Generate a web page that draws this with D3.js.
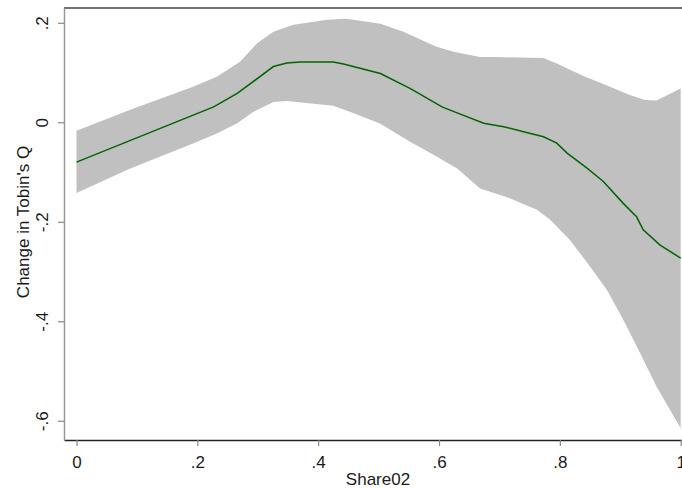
<!DOCTYPE html>
<html>
<head>
<meta charset="utf-8">
<script src="https://cdn.jsdelivr.net/npm/d3@7"></script>
<style>
  body { margin: 0; background: #fff; }
  text { font-family: "Liberation Sans", Arial, sans-serif; fill: #1a1a1a; }
</style>
</head>
<body>
<svg width="682" height="488"></svg>
<script>
// fitted line (Share02 -> change in Tobin's Q)
var fitX = [0, 0.078, 0.227, 0.266, 0.326, 0.348, 0.370, 0.425, 0.442, 0.503, 0.552, 0.605, 0.630,
  0.674, 0.707, 0.740, 0.773, 0.795, 0.812, 0.845, 0.872, 0.905, 0.927, 0.938, 0.966, 1.0]
var fitY = [-0.080, -0.042, 0.031, 0.058, 0.112, 0.119, 0.121, 0.121, 0.117, 0.098, 0.068, 0.031, 0.019,
  -0.002, -0.009, -0.019, -0.029, -0.042, -0.062, -0.092, -0.119, -0.163, -0.190, -0.216, -0.247, -0.273]

// confidence band, upper edge
var upX = [0, 0.089, 0.194, 0.233, 0.271, 0.299, 0.326, 0.359, 0.415, 0.442, 0.453, 0.503, 0.541,
  0.596, 0.624, 0.668, 0.696, 0.773, 0.795, 0.839, 0.872, 0.916, 0.941, 0.960, 1.0]
var upY = [-0.017, 0.025, 0.072, 0.092, 0.122, 0.159, 0.182, 0.196, 0.206, 0.208, 0.207, 0.198, 0.182,
  0.152, 0.142, 0.131, 0.131, 0.129, 0.118, 0.093, 0.077, 0.055, 0.045, 0.044, 0.068]

// confidence band, lower edge
var loX = [0, 0.089, 0.194, 0.233, 0.266, 0.293, 0.326, 0.348, 0.425, 0.459, 0.503, 0.552, 0.596,
  0.630, 0.668, 0.718, 0.762, 0.784, 0.817, 0.850, 0.878, 0.905, 0.933, 0.960, 1.0]
var loY = [-0.142, -0.093, -0.042, -0.022, -0.002, 0.021, 0.041, 0.043, 0.033, 0.018, -0.003, -0.039, -0.069,
  -0.093, -0.133, -0.153, -0.176, -0.196, -0.237, -0.290, -0.337, -0.397, -0.464, -0.531, -0.615]

var xTicks = [0, 0.2, 0.4, 0.6, 0.8, 1]
var yTicks = [0.2, 0, -0.2, -0.4, -0.6]
var xTitle = "Share02"
var yTitle = "Change in Tobin's Q"

var
  svg = d3.select("svg"),
  plot = { left: 64, right: 682, top: 8, bottom: 440 },
  fontSize = "17px"

var
  x = d3.scaleLinear().domain([-0.0207, 1.0022]).range([plot.left, plot.right]),
  y = d3.scaleLinear().domain([-0.6386, 0.2297]).range([plot.bottom, plot.top])

// stata style labels: ".2", "-.4", "0", "1"
var fmt = d => (d < 0 ? "-" : "") + String(Math.abs(d)).replace(/^0\./, ".")

let upper = upX.map((v, i) => [v, upY[i]])
let lower = loX.map((v, i) => [v, loY[i]]).reverse()

let line = d3.line()
  .x(d => x(d[0]))
  .y(d => y(d[1]))

svg.append("path")
  .attr("d", line([...upper, ...lower]) + "Z")
  .attr("fill", "#c0c0c0")

svg.append("path")
  .attr("d", line(fitX.map((v, i) => [v, fitY[i]])))
  .attr("fill", "none")
  .attr("stroke", "#006400")
  .attr("stroke-width", 1.5)

// top border
svg.append("line")
  .attr("x1", plot.left).attr("x2", plot.right)
  .attr("y1", plot.top).attr("y2", plot.top)
  .attr("stroke", "#444").attr("stroke-width", 1.5)

var xAxis = svg.append("g")
  .attr("transform", `translate(0,${plot.bottom})`)
  .call(d3.axisBottom(x).tickValues(xTicks).tickFormat(fmt).tickSize(6).tickPadding(10).tickSizeOuter(0))
xAxis.select(".domain").attr("stroke", "#222").attr("stroke-width", 1.5)
xAxis.selectAll(".tick line").attr("stroke", "#888").attr("stroke-width", 1.2)
xAxis.selectAll(".tick text").style("font-size", fontSize).attr("fill", "#1a1a1a")

var yAxis = svg.append("g")
  .attr("transform", `translate(${plot.left},0)`)
  .call(d3.axisLeft(y).tickValues(yTicks).tickFormat(fmt).tickSize(6).tickSizeOuter(0))
yAxis.select(".domain").attr("stroke", "#999").attr("stroke-width", 1.5)
yAxis.selectAll(".tick line").attr("stroke", "#888").attr("stroke-width", 1.2)
yAxis.selectAll(".tick text")
  .attr("x", null).attr("dy", null)
  .attr("transform", "translate(-16.5,0) rotate(-90)")
  .attr("text-anchor", "middle")
  .style("font-size", fontSize)
  .attr("fill", "#1a1a1a")

svg.append("text")
  .attr("x", 378).attr("y", 485)
  .attr("text-anchor", "middle")
  .style("font-size", fontSize)
  .text(xTitle)

svg.append("text")
  .attr("transform", `translate(29,${(plot.top + plot.bottom) / 2 - 2}) rotate(-90)`)
  .attr("text-anchor", "middle")
  .style("font-size", fontSize)
  .text(yTitle)
</script>
</body>
</html>
